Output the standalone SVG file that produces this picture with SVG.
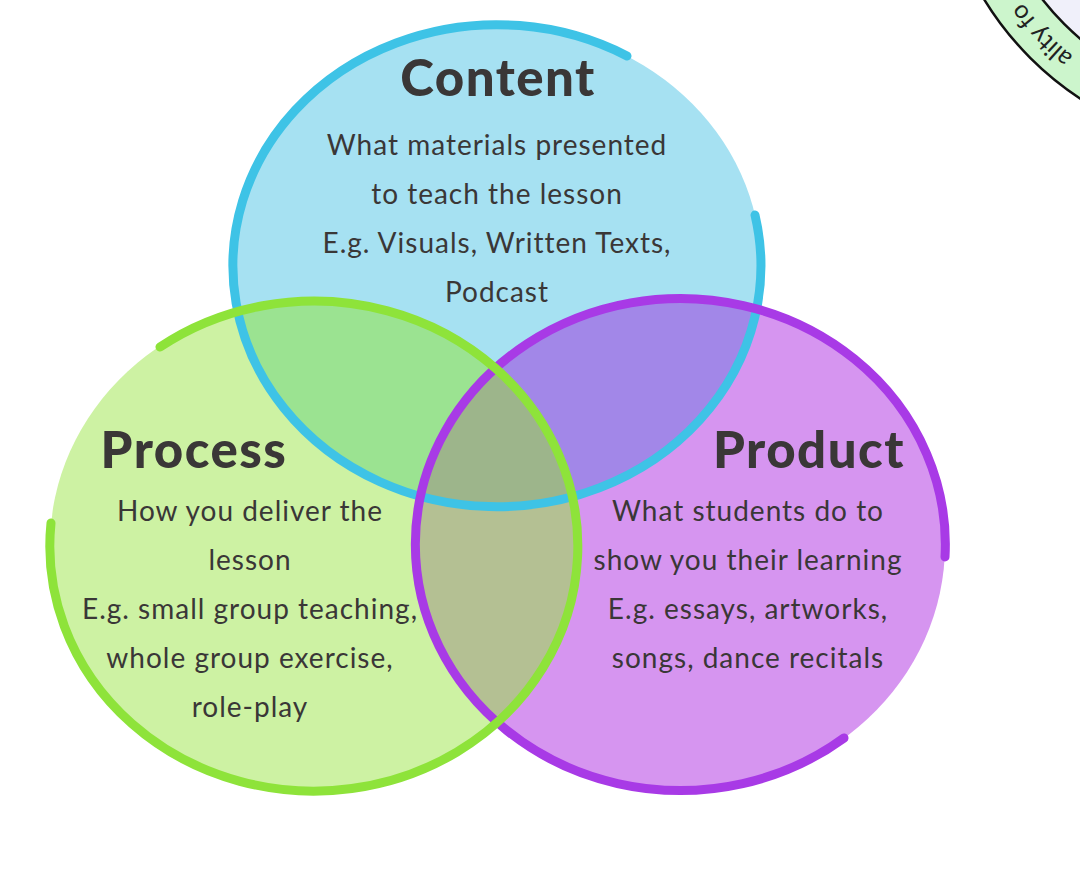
<svg xmlns="http://www.w3.org/2000/svg" width="1080" height="886" viewBox="0 0 1080 886">
  <style>
    .title { font-family: Lato, "Open Sans", sans-serif; font-weight: 900; font-size: 51px; letter-spacing: 1.5px; fill: #3a3737; text-anchor: middle; }
    .body { font-family: Lato, "Open Sans", sans-serif; font-size: 28px; letter-spacing: 1px; fill: #3a3737; text-anchor: middle; }
    .ring { fill: none; stroke-width: 9; stroke-linecap: round; }
    .badge-text { font-family: Lato, "Open Sans", sans-serif; font-size: 25px; fill: #222; }
  </style>
  <defs>
    <clipPath id="clipBlue"><ellipse cx="497" cy="266" rx="264" ry="241"/></clipPath>
    <clipPath id="clipGreen"><ellipse cx="314" cy="545" rx="264" ry="245"/></clipPath>
    <path id="badgeArc" d="M 1089.2 68.3 A 283 283 0 0 1 985.6 -66.7"/>
  </defs>
  <rect width="1080" height="886" fill="#ffffff"/>

  <g id="badge">
    <circle cx="1251.5" cy="-163.5" r="313" fill="#ccf5cc" stroke="#111" stroke-width="2.5"/>
    <circle cx="1251.5" cy="-163.5" r="265" fill="#f0f0fa" stroke="#111" stroke-width="2.5"/>
    <text class="badge-text"><textPath href="#badgeArc" startOffset="20">ality fo</textPath></text>
  </g>

  <g id="fills">
    <ellipse cx="497" cy="266" rx="264" ry="241" fill="#a6e1f2"/>
    <ellipse cx="314" cy="545" rx="264" ry="245" fill="#cdf2a3"/>
    <ellipse cx="680" cy="545" rx="265" ry="246" fill="#d695f0"/>
    <ellipse cx="314" cy="545" rx="264" ry="245" fill="#9be391" clip-path="url(#clipBlue)"/>
    <ellipse cx="680" cy="545" rx="265" ry="246" fill="#a287e8" clip-path="url(#clipBlue)"/>
    <ellipse cx="680" cy="545" rx="265" ry="246" fill="#b4c093" clip-path="url(#clipGreen)"/>
    <g clip-path="url(#clipBlue)">
      <ellipse cx="680" cy="545" rx="265" ry="246" fill="#9db58b" clip-path="url(#clipGreen)"/>
    </g>
  </g>

  <g id="connectors"></g>

  <g id="content">
    <path class="ring" stroke="#3ec3e6" d="M 755 215 A 264 241 0 1 1 627 56"/>
    <text class="title" x="498" y="96">Content</text>
    <text class="body" x="497" y="155">What materials presented</text>
    <text class="body" x="497" y="204">to teach the lesson</text>
    <text class="body" x="497" y="253">E.g. Visuals, Written Texts,</text>
    <text class="body" x="497" y="302">Podcast</text>
  </g>

  <g id="product">
    <path class="ring" stroke="#a83ae6" d="M 844 738 A 265 246 0 1 1 945 557"/>
    <text class="title" x="809" y="468">Product</text>
    <text class="body" x="748" y="521">What students do to</text>
    <text class="body" x="748" y="570">show you their learning</text>
    <text class="body" x="748" y="619">E.g. essays, artworks,</text>
    <text class="body" x="748" y="668">songs, dance recitals</text>
  </g>

  <g id="process">
    <path class="ring" stroke="#8ee33a" d="M 51 523 A 264 245 0 1 0 160 347"/>
    <text class="title" x="194" y="468">Process</text>
    <text class="body" x="250" y="521">How you deliver the</text>
    <text class="body" x="250" y="570">lesson</text>
    <text class="body" x="250" y="619">E.g. small group teaching,</text>
    <text class="body" x="250" y="668">whole group exercise,</text>
    <text class="body" x="250" y="717">role-play</text>
  </g>
</svg>
